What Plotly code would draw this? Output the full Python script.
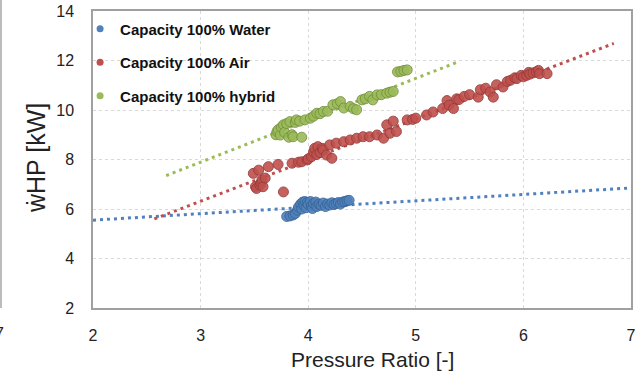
import plotly.graph_objects as go

# ---- data ----
water_x = [3.80, 3.83, 3.86, 3.88, 3.90, 3.91, 3.93, 3.94, 3.95, 3.96, 3.97, 3.98, 3.99, 4.00,
           4.02, 4.03, 4.04, 4.05, 4.07, 4.08, 4.10, 4.12, 4.14, 4.16, 4.18, 4.20, 4.22, 4.24,
           4.26, 4.28, 4.30, 4.32, 4.34, 4.36, 4.38]
water_y = [5.70, 5.72, 5.76, 5.82, 5.95, 6.08, 6.20, 6.00, 6.28, 6.15, 6.30, 6.05, 6.25, 6.18,
           6.30, 6.12, 6.02, 6.22, 6.28, 6.10, 6.20, 6.15, 6.24, 6.10, 6.20, 6.16, 6.25, 6.18,
           6.22, 6.26, 6.20, 6.28, 6.30, 6.33, 6.35]

air_x = [3.49, 3.51, 3.52, 3.54, 3.55, 3.56, 3.57, 3.58, 3.60, 3.63, 3.72, 3.77, 3.85, 3.91,
         3.94, 3.99, 4.00, 4.03, 4.05, 4.06, 4.08, 4.09, 4.11, 4.13, 4.14, 4.17, 4.20, 4.22,
         4.26, 4.33, 4.39, 4.45, 4.51, 4.57, 4.64, 4.70, 4.73, 4.76, 4.79, 4.82, 4.92, 4.97,
         5.00, 5.10, 5.16, 5.25, 5.29, 5.31, 5.35, 5.38, 5.40, 5.45, 5.50, 5.58, 5.60, 5.65,
         5.69, 5.72, 5.75, 5.81, 5.85, 5.88, 5.92, 5.94, 5.98, 6.00, 6.03, 6.05, 6.06, 6.09,
         6.12, 6.14, 6.15, 6.22]
air_y = [7.44, 6.90, 6.83, 7.57, 6.97, 7.05, 7.17, 6.90, 7.25, 7.71, 7.80, 6.69, 7.85, 7.89,
         7.91, 7.98, 8.02, 8.11, 8.30, 8.45, 8.20, 8.52, 8.28, 8.45, 8.39, 8.18, 8.59, 8.05,
         8.66, 8.72, 8.79, 8.86, 8.92, 8.92, 8.99, 8.86, 9.40, 9.06, 9.55, 9.13, 9.60, 9.62,
         9.67, 9.80, 9.92, 10.06, 10.38, 10.20, 10.06, 10.45, 10.42, 10.55, 10.62, 10.52, 10.82, 10.88,
         10.73, 10.52, 11.02, 10.93, 11.15, 11.20, 11.30, 11.27, 11.40, 11.34, 11.40, 11.52, 11.45, 11.50,
         11.54, 11.60, 11.47, 11.47]

hybrid_x = [3.70, 3.71, 3.72, 3.74, 3.75, 3.77, 3.78, 3.80, 3.82, 3.83, 3.85, 3.86, 3.88, 3.89,
            3.92, 3.94, 3.97, 4.02, 4.05, 4.08, 4.11, 4.14, 4.18, 4.23, 4.27, 4.30, 4.33, 4.39,
            4.42, 4.45, 4.50, 4.53, 4.57, 4.60, 4.64, 4.68, 4.73, 4.76, 4.79, 4.83, 4.86, 4.89,
            4.92]
hybrid_y = [9.00, 9.13, 9.20, 8.99, 9.30, 9.40, 9.10, 9.45, 8.90, 9.53, 9.00, 8.92, 9.50, 9.60,
            9.55, 8.90, 9.60, 9.67, 9.75, 9.87, 9.85, 9.94, 9.95, 10.21, 10.25, 10.34, 10.08, 10.14,
            10.05, 10.01, 10.41, 10.45, 10.55, 10.41, 10.61, 10.62, 10.68, 10.72, 10.75, 11.54, 11.56, 11.60,
            11.62]

# trendline end points
water_trend_x = [2.0, 7.0]
water_trend_y = [5.55, 6.85]
air_trend_x = [2.57, 6.84]
air_trend_y = [5.60, 12.69]
hybrid_trend_x = [2.68, 5.39]
hybrid_trend_y = [7.35, 11.94]

names = ["Capacity 100% Water", "Capacity 100% Air", "Capacity 100% hybrid"]
colors = ["#4F81BD", "#C0504D", "#9BBB59"]
edges = ["#3A6595", "#963D3A", "#76923F"]

FONT = "Liberation Sans"
L, R, T, B = 93, 8, 11, 69
W, H = 639, 377
PW, PH = W - L - R, H - T - B


def px_x(p):
    return (p - L) / PW


def px_y(p):
    return (H - B - p) / PH


fig = go.Figure()

series = [(water_x, water_y, water_trend_x, water_trend_y),
          (air_x, air_y, air_trend_x, air_trend_y),
          (hybrid_x, hybrid_y, hybrid_trend_x, hybrid_trend_y)]

for (sx, sy, tx, ty), c in zip(series, colors):
    fig.add_trace(go.Scatter(x=tx, y=ty, mode="lines", showlegend=False, hoverinfo="skip",
                             line=dict(color=c, width=3, dash="3px,4px")))

for (sx, sy, tx, ty), c, e in zip(series, colors, edges):
    fig.add_trace(go.Scatter(x=sx, y=sy, mode="markers", showlegend=False,
                             marker=dict(size=10, color=c, opacity=0.9,
                                         line=dict(color=e, width=1))))

for i, (n, c) in enumerate(zip(names, colors)):
    fig.add_trace(go.Scatter(x=[None], y=[None], mode="markers", name=n,
                             legendgroup=f"g{i}",
                             marker=dict(size=7, color=c)))

# neighbour-chart remnants on the left edge
fig.add_shape(type="line", xref="paper", yref="paper",
              x0=px_x(1), x1=px_x(1), y0=0, y1=1.04,
              line=dict(color="#A6A6A6", width=1.5))
fig.add_annotation(text="7", xref="paper", yref="paper", x=px_x(6), y=px_y(333),
                   xanchor="right", yanchor="middle", showarrow=False,
                   font=dict(family=FONT, size=16, color="#222"))

# axis titles
fig.add_annotation(text="Pressure Ratio [-]", xref="paper", yref="paper",
                   x=px_x(372), y=px_y(359), xanchor="center", yanchor="middle",
                   showarrow=False, font=dict(family=FONT, size=21, color="#222"))
fig.add_annotation(text="ẇHP [kW]", xref="paper", yref="paper", textangle=-90,
                   x=px_x(36), y=px_y(158), xanchor="center", yanchor="middle",
                   showarrow=False, font=dict(family=FONT, size=25, color="#222"))

fig.update_layout(
    width=W, height=H,
    margin=dict(l=L, r=R, t=T, b=B, autoexpand=False),
    paper_bgcolor="white", plot_bgcolor="white",
    font=dict(family=FONT, size=16, color="#222"),
    legend=dict(x=-0.024, y=0.995, xanchor="left", yanchor="top",
                bgcolor="rgba(0,0,0,0)", tracegroupgap=11, traceorder="grouped",
                font=dict(family=FONT, size=15, color="#111", weight="bold"),
                itemwidth=30),
    xaxis=dict(range=[2, 7], dtick=1, tick0=2, automargin=False,
               showgrid=True, gridcolor="#D9D9D9", griddash="dot", gridwidth=1,
               showline=True, linecolor="#A0A0A0", linewidth=1.5, mirror=True,
               zeroline=False, ticks="", ticklabelstandoff=12),
    yaxis=dict(range=[2, 14], dtick=2, tick0=2, automargin=False,
               showgrid=True, gridcolor="#D9D9D9", griddash="dot", gridwidth=1,
               showline=True, linecolor="#A0A0A0", linewidth=1.5, mirror=True,
               zeroline=False, ticks="", ticklabelstandoff=14),
)

fig.write_html("out.html")
